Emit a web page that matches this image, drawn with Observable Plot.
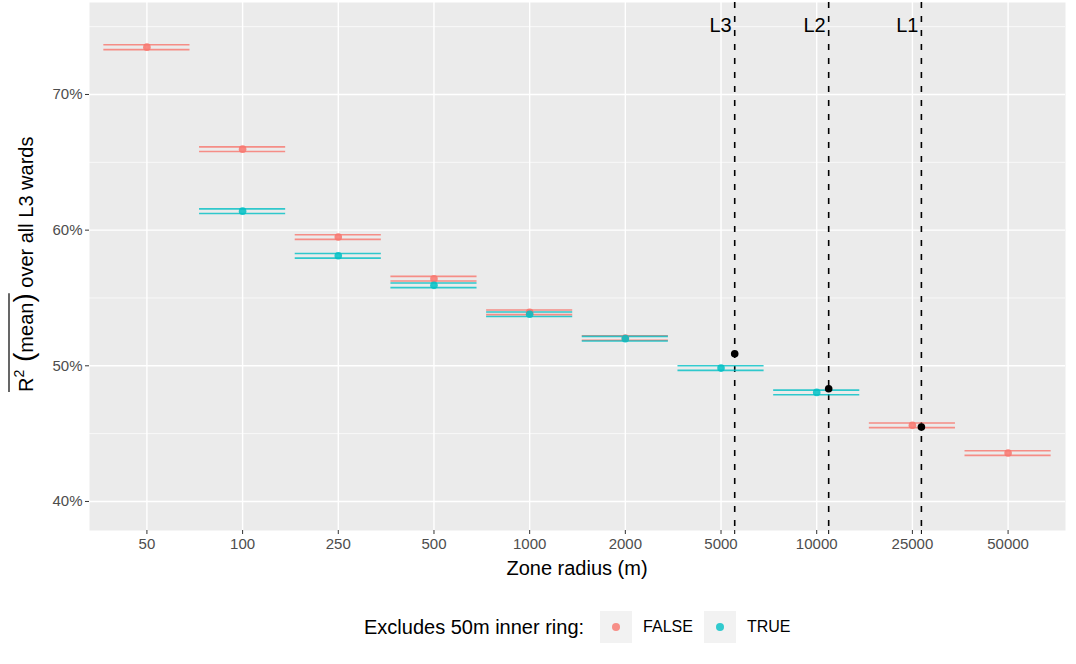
<!DOCTYPE html>
<html>
<head>
<meta charset="utf-8">
<script src="https://cdn.jsdelivr.net/npm/d3@7"></script>
<script src="https://cdn.jsdelivr.net/npm/@observablehq/plot@0.6"></script>
<style>
  body { margin: 0; background: #fff; font-family: "Liberation Sans", Arial, sans-serif; }
  #wrap { position: relative; width: 1076px; height: 664px; overflow: hidden; }
  #legend { position: absolute; left: 364px; top: 611px; height: 32px; display: flex; align-items: center; color: #000; }
  #legend .title { font-size: 20px; margin-right: 16px; }
  #legend .key { width: 32px; height: 32px; background: #f2f2f2; display: flex; align-items: center; justify-content: center; }
  #legend .dot { width: 8px; height: 8px; border-radius: 50%; opacity: 0.8; }
  #legend .lab { font-size: 16px; margin-left: 11px; margin-right: 11px; }
</style>
</head>
<body>
<div id="wrap"><div id="legend"></div></div>
<script>
// ---- data ----
const radii = ["50", "100", "250", "500", "1000", "2000", "5000", "10000", "25000", "50000"];
const groups = ["FALSE", "TRUE"];
const groupColors = ["#F8766D", "#00BFC4"];

const falseRadii = ["50", "100", "250", "500", "1000", "2000", "25000", "50000"];
const falseMean  = [73.49, 65.97, 59.49, 56.42, 53.94, 52.05, 45.61, 43.57];
const falseSE    = [0.18, 0.17, 0.17, 0.17, 0.17, 0.17, 0.17, 0.17];

const trueRadii = ["100", "250", "500", "1000", "2000", "5000", "10000"];
const trueMean  = [61.40, 58.11, 55.93, 53.80, 52.00, 49.83, 48.04];
const trueSE    = [0.17, 0.17, 0.17, 0.17, 0.17, 0.17, 0.17];

const levelLabels = ["L3", "L2", "L1"];
const levelPos    = [6.143, 7.125, 8.094];   // position on the category axis
const levelR2     = [50.89, 48.31, 45.48];

const majorY = [40, 50, 60, 70];
const minorY = [45, 55, 65, 75];

// ---- tables ----
const rows = [];
falseRadii.forEach((r, k) => rows.push({radius: r, i: radii.indexOf(r), group: "FALSE", mean: falseMean[k], se: falseSE[k]}));
trueRadii.forEach((r, k) => rows.push({radius: r, i: radii.indexOf(r), group: "TRUE", mean: trueMean[k], se: trueSE[k]}));
const levels = levelLabels.map((l, k) => ({label: l, pos: levelPos[k], r2: levelR2[k]}));
const cats = radii.map((_, i) => i);

const chart = Plot.plot({
  width: 1076, height: 600,
  marginLeft: 89, marginRight: 11, marginTop: 2, marginBottom: 70,
  style: {fontFamily: '"Liberation Sans", Arial, sans-serif', fontSize: "15px", color: "#4d4d4d", background: "white"},
  x: {type: "linear", domain: [-0.6, 9.6]},
  y: {domain: [37.86, 76.78]},
  color: {domain: groups, range: groupColors},
  marks: [
    Plot.frame({fill: "#ebebeb", stroke: "none"}),
    Plot.gridY(minorY, {stroke: "white", strokeOpacity: 1, strokeWidth: 0.7}),
    Plot.gridY(majorY, {stroke: "white", strokeOpacity: 1, strokeWidth: 1.4}),
    Plot.gridX(cats, {stroke: "white", strokeOpacity: 1, strokeWidth: 1.4}),
    Plot.axisY(majorY, {tickFormat: d => d + "%", tickSize: 4, tickPadding: 3, stroke: "#333", fill: "#4d4d4d", label: null}),
    Plot.axisX(cats, {tickFormat: i => radii[i], tickSize: 4, tickPadding: 4, stroke: "#333", fill: "#4d4d4d", label: null}),
    Plot.axisX(levelPos, {tickFormat: () => "", tickSize: 4, stroke: "black", label: null}),
    Plot.ruleX(levels, {x: "pos", stroke: "black", strokeWidth: 1.6, strokeDasharray: "6,8"}),
    Plot.ruleY(rows, {y: d => d.mean + d.se, x1: d => d.i - 0.45, x2: d => d.i + 0.45, stroke: "group", strokeWidth: 1.6, strokeOpacity: 0.8}),
    Plot.ruleY(rows, {y: d => d.mean - d.se, x1: d => d.i - 0.45, x2: d => d.i + 0.45, stroke: "group", strokeWidth: 1.6, strokeOpacity: 0.8}),
    Plot.dot(rows, {x: "i", y: "mean", fill: "group", r: 3.8, fillOpacity: 0.85}),
    Plot.dot(levels, {x: "pos", y: "r2", fill: "black", r: 3.8}),
    Plot.text(levels, {x: "pos", text: "label", frameAnchor: "top", textAnchor: "end", lineAnchor: "middle", dx: -3, dy: 23, fontSize: 20, fill: "black"})
  ]
});

document.getElementById("wrap").prepend(chart);

const svg = d3.select(chart);
// x title
svg.append("text")
  .attr("x", 577).attr("y", 575)
  .attr("text-anchor", "middle")
  .attr("font-size", 20).attr("fill", "black")
  .text("Zone radius (m)");

// y title with overline over R² (mean)
const g = svg.append("g").attr("transform", "translate(33,392) rotate(-90)");
const yt = g.append("text").attr("font-size", 20).attr("fill", "black").attr("text-anchor", "start");
const t1 = yt.append("tspan").text("R");
const t2 = yt.append("tspan").attr("font-size", 14).attr("dy", -9).text("2");
const t3 = yt.append("tspan").attr("dy", 9).attr("font-size", 28).text(" (");
const t4 = yt.append("tspan").attr("font-size", 20).text("mean");
const t5 = yt.append("tspan").attr("font-size", 28).text(")");
yt.append("tspan").attr("font-size", 20).text(" over all L3 wards");
const over = [t1, t2, t3, t4, t5].reduce((s, t) => s + t.node().getComputedTextLength(), 0);
g.append("line").attr("x1", 0).attr("x2", over).attr("y1", -24).attr("y2", -24)
  .attr("stroke", "black").attr("stroke-width", 1.2);

// legend
const leg = d3.select("#legend");
leg.append("span").attr("class", "title").text("Excludes 50m inner ring:");
groups.forEach((gname, k) => {
  leg.append("span").attr("class", "key")
    .append("span").attr("class", "dot").style("background", groupColors[k]);
  leg.append("span").attr("class", "lab").text(gname);
});
</script>
</body>
</html>
